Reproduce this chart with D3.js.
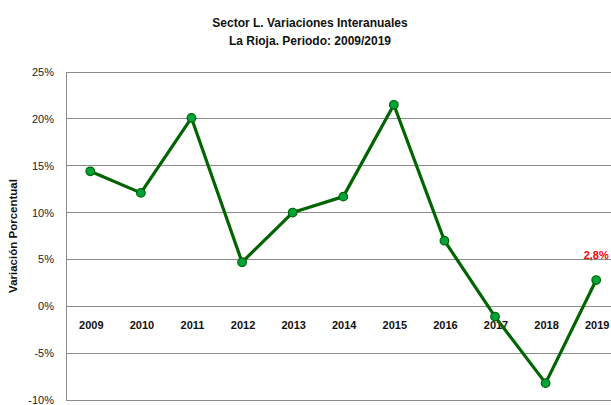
<!DOCTYPE html>
<html><head><meta charset="utf-8">
<script src="https://cdn.jsdelivr.net/npm/d3@7"></script>
<style>body{margin:0;background:#fff;overflow:hidden}svg{display:block}</style>
</head><body>
<svg id="c" width="611" height="405"></svg>
<script>
const years = ["2009","2010","2011","2012","2013","2014","2015","2016","2017","2018","2019"];
const values = [14.4, 12.1, 20.1, 4.7, 10.0, 11.7, 21.5, 7.0, -1.1, -8.2, 2.8];
const yTicks = [-10, -5, 0, 5, 10, 15, 20, 25];
const titleLines = ["Sector L. Variaciones Interanuales", "La Rioja. Periodo: 2009/2019"];
const yLabel = "Variación Porcentual";
const lastLabel = "2,8%";

const svg = d3.select("#c");
const font = "'Liberation Sans', Arial, sans-serif";
const x = d3.scaleBand().domain(years).range([65, 621.5]);
const y = d3.scaleLinear().domain([-10, 25]).range([400, 72]);

// gridlines
svg.append("g").selectAll("line").data(yTicks).join("line")
  .attr("x1", 66).attr("x2", 611)
  .attr("y1", d => y(d)).attr("y2", d => y(d))
  .attr("stroke", "#8c8c8c").attr("stroke-width", 1).attr("shape-rendering","crispEdges");
// left axis
svg.append("line").attr("x1", 66).attr("x2", 66).attr("y1", 72).attr("y2", 400)
  .attr("stroke", "#8c8c8c").attr("shape-rendering","crispEdges");

// y tick labels
svg.append("g").selectAll("text").data(yTicks).join("text")
  .attr("x", 54).attr("y", d => y(d) + 4)
  .attr("text-anchor", "end").attr("font-family", font).attr("font-size", 11).attr("fill", "#222")
  .text(d => d + "%");

// x labels along 0 line
svg.append("g").selectAll("text").data(years).join("text")
  .attr("x", d => x(d) + x.bandwidth()/2 + 1).attr("y", y(0) + 23)
  .attr("text-anchor", "middle").attr("font-family", font).attr("font-size", 11)
  .attr("font-weight", "bold").attr("fill", "#111")
  .text(d => d);

// line
const data = years.map((yr, i) => ({yr, v: values[i]}));
svg.append("path").datum(data)
  .attr("fill", "none").attr("stroke", "#006400").attr("stroke-width", 3.2).attr("stroke-linejoin","round")
  .attr("d", d3.line().x(d => x(d.yr) + x.bandwidth()/2).y(d => y(d.v)));
svg.append("g").selectAll("circle").data(data).join("circle")
  .attr("cx", d => x(d.yr) + x.bandwidth()/2).attr("cy", d => y(d.v)).attr("r", 4.3)
  .attr("fill", "#00a33a").attr("stroke", "#006400").attr("stroke-width", 1.2);

// last label
const last = data[data.length - 1];
svg.append("text").attr("x", x(last.yr) + x.bandwidth()/2).attr("y", y(last.v) - 21)
  .attr("text-anchor", "middle").attr("font-family", font).attr("font-size", 11)
  .attr("font-weight", "bold").attr("fill", "#ff0000").text(lastLabel);

// title
svg.append("g").selectAll("text").data(titleLines).join("text")
  .attr("x", 310).attr("y", (d, i) => 27 + i * 18)
  .attr("text-anchor", "middle").attr("font-family", font).attr("font-size", 12)
  .attr("font-weight", "bold").attr("fill", "#111").text(d => d);

// y axis label
svg.append("text").attr("transform", "translate(17,236) rotate(-90)")
  .attr("text-anchor", "middle").attr("font-family", font).attr("font-size", 11.5)
  .attr("font-weight", "bold").attr("fill", "#111").text(yLabel);
</script>
</body></html>
